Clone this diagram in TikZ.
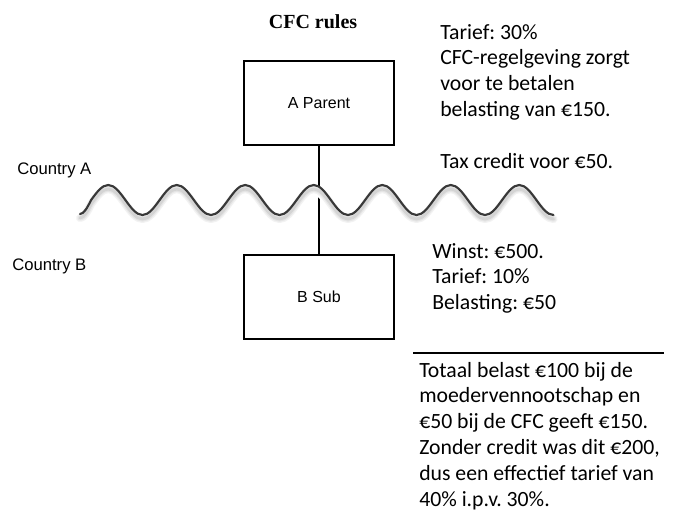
\documentclass[tikz,border=0pt]{standalone}
\usepackage{fontspec}
\setmainfont{Carlito}
\newfontfamily\arialfont{Liberation Sans}
\newfontfamily\timesfont{Liberation Serif}
\frenchspacing
\newcommand{\wavecurve}{(80,214) \foreach \i in {0,...,6} { cos ({91.125+68.5*\i},200) sin ({108.25+68.5*\i},185) cos ({125.375+68.5*\i},200) sin ({142.5+68.5*\i},215) }}
\begin{document}
\begin{tikzpicture}[x=0.75pt,y=-0.75pt,
  entity/.style={draw, line width=1pt, minimum width=112.5pt, minimum height=63pt,
    inner sep=0pt, font=\arialfont\fontsize{12}{14}\selectfont},
  country/.style={anchor=base west, inner sep=0pt, font=\arialfont\fontsize{12.5}{15}\selectfont},
  note/.style={anchor=base west, inner sep=0pt, font=\frenchspacing\fontsize{16.3}{19.4}\selectfont},
  link/.style={line width=1pt},
  wavebase/.style={line cap=round, line join=round},
  wave/.style={wavebase, line width=1.6pt, draw=black!78},
  wavecover/.style={wavebase, line width=7.5pt, draw=white},
  glowA/.style={wavebase, line width=6pt, draw=black!5},
  glowB/.style={wavebase, line width=4pt, draw=black!10},
  glowC/.style={wavebase, line width=2.2pt, draw=black!17}
]
\useasboundingbox (0,0) rectangle (675,511);

\node[font=\timesfont\bfseries\fontsize{15}{18}\selectfont, anchor=base, inner sep=0pt] (title) at (313,28) {CFC rules};

\node[entity] (parent) at (319,103) {A Parent};
\node[entity] (sub) at (319,297) {B Sub};
\draw[link] (parent.south) -- (sub.north);

\node[country] (ca) at (17,174) {Country A};
\node[country] (cb) at (12,270) {Country B};

% border wave with soft shadow
\begin{scope}[shift={(0,5)}]
  \draw[wavecover] \wavecurve;
\end{scope}
\begin{scope}[shift={(0,4)}]
  \draw[glowA] \wavecurve;
  \draw[glowB] \wavecurve;
  \draw[glowC] \wavecurve;
\end{scope}
\draw[wave] \wavecurve;

\node[note] (ntop) at (440,39) {\begin{tabular}[t]{@{}l@{}}Tarief: 30\%\\CFC-regelgeving zorgt\\voor te betalen\\belasting van €150.\\ \\Tax credit voor €50.\end{tabular}};

\node[note] (nsub) at (432,258) {\begin{tabular}[t]{@{}l@{}}Winst: €500.\\Tarief: 10\%\\Belasting: €50\end{tabular}};

\coordinate (ruleL) at (413,353);
\coordinate (ruleR) at (664,353);
\draw[line width=1pt] (ruleL) -- (ruleR);

\node[note] (ntot) at (419,377) {\begin{tabular}[t]{@{}l@{}}Totaal belast €100 bij de\\moedervennootschap en\\€50 bij de CFC geeft €150.\\Zonder credit was dit €200,\\dus een effectief tarief van\\40\% i.p.v. 30\%.\end{tabular}};
\end{tikzpicture}
\end{document}
